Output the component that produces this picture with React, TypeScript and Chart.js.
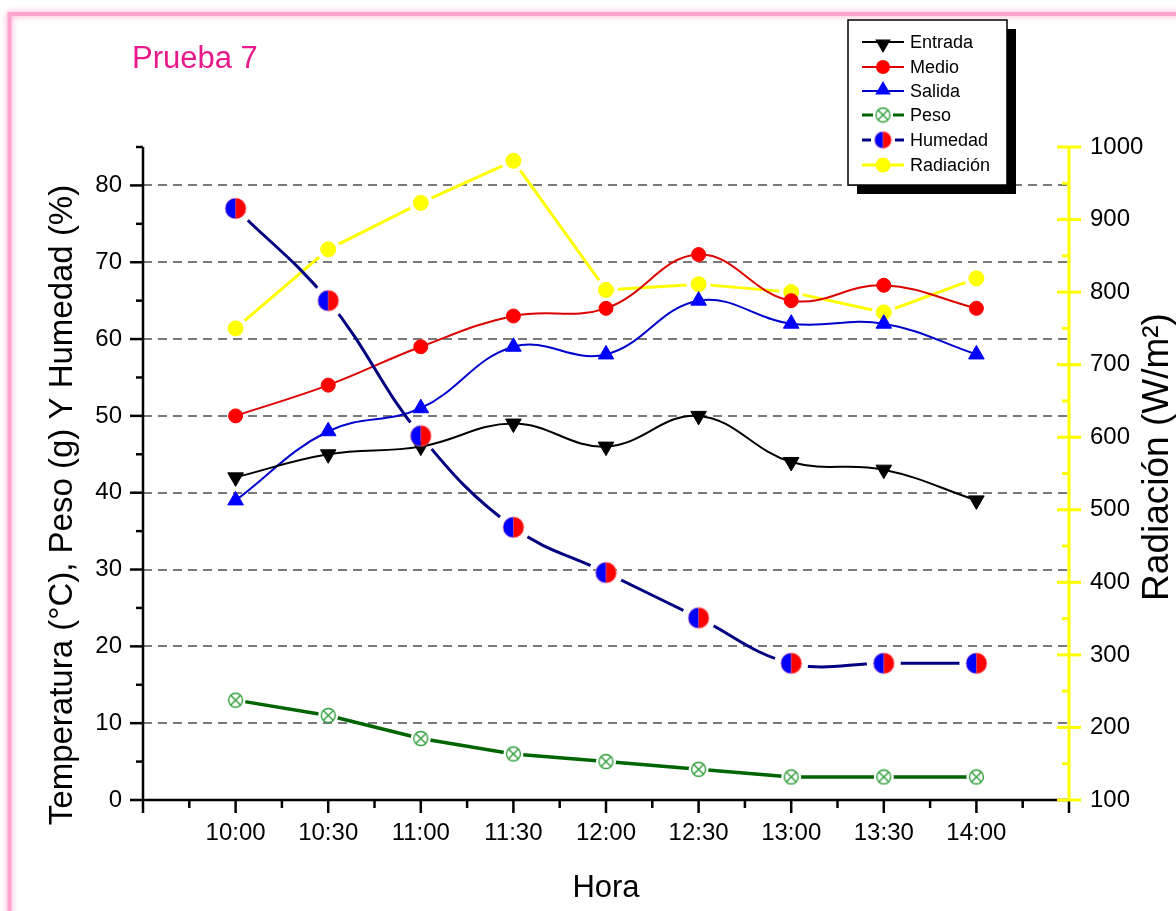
import React, { useEffect, useRef } from 'react';
import { Chart, registerables } from 'chart.js';
Chart.register(...registerables);

const horas = ['10:00', '10:30', '11:00', '11:30', '12:00', '12:30', '13:00', '13:30', '14:00'];
const entrada = [42, 45, 46, 49, 46, 50, 44, 43, 39];
const medio = [50, 54, 59, 63, 64, 71, 65, 67, 64];
const salida = [39, 48, 51, 59, 58, 65, 62, 62, 58];
const peso = [13, 11, 8, 6, 5, 4, 3, 3, 3];
const humedad = [77, 65, 47.4, 35.5, 29.6, 23.7, 17.8, 17.8, 17.8];
const radiacion = [750, 859, 923, 981, 803, 811, 800, 772, 819];

const leftMin = 0, leftMax = 85, leftMajor = 10, leftMinor = 5;
const rightMin = 100, rightMax = 1000, rightMajor = 100, rightMinor = 50;
const legendNames = ['Entrada', 'Medio', 'Salida', 'Peso', 'Humedad', 'Radiación'];

const FONT = "'Liberation Sans', Arial, sans-serif";
const pts = (arr: number[]) => arr.map((v, i) => ({ x: i, y: v }));

function makeHumImg(r: number) {
  const c = document.createElement('canvas');
  const s = Math.ceil(r * 2 + 2);
  c.width = s; c.height = s;
  const g = c.getContext('2d')!;
  const cx = s / 2;
  g.fillStyle = '#0000FF';
  g.beginPath(); g.moveTo(cx, cx); g.arc(cx, cx, r, Math.PI / 2, Math.PI * 1.5); g.closePath(); g.fill();
  g.fillStyle = '#FF0000';
  g.beginPath(); g.moveTo(cx, cx); g.arc(cx, cx, r, -Math.PI / 2, Math.PI / 2); g.closePath(); g.fill();
  g.strokeStyle = 'rgba(255,160,170,0.7)'; g.lineWidth = 1;
  g.beginPath(); g.arc(cx, cx, r, 0, Math.PI * 2); g.stroke();
  return c;
}

function makePesoImg(r: number) {
  const c = document.createElement('canvas');
  const s = Math.ceil(r * 2 + 3);
  c.width = s; c.height = s;
  const g = c.getContext('2d')!;
  const cx = s / 2;
  g.fillStyle = '#fff';
  g.beginPath(); g.arc(cx, cx, r, 0, Math.PI * 2); g.fill();
  g.strokeStyle = '#2E9E3A'; g.lineWidth = 1.4;
  g.stroke();
  const d = r * 0.72;
  g.beginPath();
  g.moveTo(cx - d, cx - d); g.lineTo(cx + d, cx + d);
  g.moveTo(cx + d, cx - d); g.lineTo(cx - d, cx + d);
  g.stroke();
  return c;
}

export default function App() {
  const ref = useRef<HTMLCanvasElement>(null);
  useEffect(() => {
    const canvas = ref.current!;
    const humImg = makeHumImg(10.5);
    const humImgSmall = makeHumImg(8.5);
    const pesoImg = makePesoImg(7);

    const decor = {
      id: 'decor',
      beforeDraw(chart: any) {
        const ctx = chart.ctx;
        const ca = chart.chartArea;
        ctx.save();
        ctx.fillStyle = '#fff';
        ctx.fillRect(0, 0, chart.width, chart.height);
        // pink frame
        ctx.strokeStyle = '#FFA3CF';
        ctx.lineWidth = 4;
        ctx.shadowColor = 'rgba(255,150,200,0.9)';
        ctx.shadowBlur = 6;
        ctx.beginPath();
        ctx.moveTo(9.5, chart.height + 10);
        ctx.lineTo(9.5, 14);
        ctx.lineTo(chart.width + 10, 14);
        ctx.stroke();
        ctx.shadowBlur = 0;
        ctx.shadowColor = 'transparent';
        // gridlines
        const yl = chart.scales.y;
        ctx.strokeStyle = '#7A7A7A';
        ctx.lineWidth = 2;
        ctx.setLineDash([9, 6]);
        for (let v = leftMin + leftMajor; v < leftMax; v += leftMajor) {
          const py = Math.round(yl.getPixelForValue(v));
          ctx.beginPath();
          ctx.moveTo(ca.left, py);
          ctx.lineTo(ca.right, py);
          ctx.stroke();
        }
        ctx.restore();
      },
      beforeDatasetDraw(chart: any, args: any) {
        const ds = chart.data.datasets[args.index];
        if (!ds.gap) return;
        const ctx = chart.ctx;
        ctx.save();
        ctx.beginPath();
        ctx.rect(0, 0, chart.width, chart.height);
        for (const el of args.meta.data) {
          ctx.moveTo(el.x + ds.gap, el.y);
          ctx.arc(el.x, el.y, ds.gap, 0, Math.PI * 2, true);
        }
        ctx.clip('evenodd');
      },
      afterDatasetDraw(chart: any, args: any) {
        const ds = chart.data.datasets[args.index];
        if (!ds.gap) return;
        chart.ctx.restore();
      },
      afterDraw(chart: any) {
        const ctx = chart.ctx;
        const ca = chart.chartArea;
        const xs = chart.scales.x, yl = chart.scales.y, yr = chart.scales.y1;
        const line = (x1: number, y1: number, x2: number, y2: number) => {
          ctx.beginPath(); ctx.moveTo(x1, y1); ctx.lineTo(x2, y2); ctx.stroke();
        };
        ctx.save();
        ctx.lineCap = 'butt';
        ctx.strokeStyle = '#000';
        ctx.lineWidth = 2.5;
        line(ca.left, ca.bottom, ca.right, ca.bottom);
        for (let v = -1; v <= 9; v += 0.5) {
          const px = xs.getPixelForValue(v);
          line(px, ca.bottom, px, ca.bottom + (Number.isInteger(v) ? 13 : 8));
        }
        line(ca.left, ca.top, ca.left, ca.bottom);
        for (let v = leftMin; v <= leftMax; v += leftMinor) {
          const py = yl.getPixelForValue(v);
          line(ca.left - (v % leftMajor === 0 ? 13 : 7), py, ca.left, py);
        }
        ctx.strokeStyle = '#FFFF00';
        ctx.lineWidth = 3;
        line(ca.right, ca.top, ca.right, ca.bottom);
        for (let v = rightMin; v <= rightMax; v += rightMinor) {
          const py = yr.getPixelForValue(v);
          if (v % rightMajor === 0) line(ca.right - 12, py, ca.right + 12, py);
          else line(ca.right - 7, py, ca.right, py);
        }

        // titles
        ctx.fillStyle = '#E8198B';
        ctx.font = `31px ${FONT}`;
        ctx.textAlign = 'left';
        ctx.textBaseline = 'alphabetic';
        ctx.fillText('Prueba 7', 132, 68);

        ctx.fillStyle = '#000';
        ctx.font = `31px ${FONT}`;
        ctx.textAlign = 'center';
        ctx.fillText('Hora', (ca.left + ca.right) / 2, 897);

        ctx.font = `33px ${FONT}`;
        ctx.save();
        ctx.translate(72, 505);
        ctx.rotate(-Math.PI / 2);
        ctx.fillText('Temperatura (°C), Peso (g) Y Humedad (%)', 0, 0);
        ctx.restore();
        ctx.font = `37px ${FONT}`;
        ctx.save();
        ctx.translate(1168, 457);
        ctx.rotate(-Math.PI / 2);
        ctx.fillText('Radiación (W/m²)', 0, 0);
        ctx.restore();

        // legend
        const L = { x: 848, y: 20, w: 159, h: 165 };
        ctx.fillStyle = '#000';
        ctx.fillRect(L.x + 9, L.y + 9, L.w, L.h);
        ctx.fillStyle = '#fff';
        ctx.fillRect(L.x, L.y, L.w, L.h);
        ctx.strokeStyle = '#000';
        ctx.lineWidth = 1.5;
        ctx.strokeRect(L.x, L.y, L.w, L.h);
        const rows = [42, 67, 91, 115, 140, 165];
        const lx1 = 862, lx2 = 904, mx = 883;
        const tri = (cx: number, cy: number, r: number, down: boolean, color: string) => {
          ctx.fillStyle = color;
          ctx.beginPath();
          const s = down ? -1 : 1;
          ctx.moveTo(cx, cy - s * r);
          ctx.lineTo(cx + r * 0.866, cy + s * r * 0.5);
          ctx.lineTo(cx - r * 0.866, cy + s * r * 0.5);
          ctx.closePath();
          ctx.fill();
        };
        const circ = (cx: number, cy: number, r: number, color: string) => {
          ctx.fillStyle = color;
          ctx.beginPath(); ctx.arc(cx, cy, r, 0, Math.PI * 2); ctx.fill();
        };
        // Entrada
        ctx.strokeStyle = '#000'; ctx.lineWidth = 2;
        line(lx1, rows[0], lx2, rows[0]);
        tri(mx, rows[0] + 2, 9, true, '#000');
        // Medio
        ctx.strokeStyle = '#DD0000'; ctx.lineWidth = 2;
        line(lx1, rows[1], lx2, rows[1]);
        circ(mx, rows[1], 7, '#FF0000');
        // Salida
        ctx.strokeStyle = '#0000CC'; ctx.lineWidth = 2;
        line(lx1, rows[2], lx2, rows[2]);
        tri(mx, rows[2] - 1, 9, false, '#0000FF');
        // Peso
        ctx.strokeStyle = '#006400'; ctx.lineWidth = 3;
        line(lx1, rows[3], mx - 10, rows[3]);
        line(mx + 10, rows[3], lx2, rows[3]);
        ctx.drawImage(pesoImg, mx - pesoImg.width / 2, rows[3] - pesoImg.height / 2);
        // Humedad
        ctx.strokeStyle = '#000080'; ctx.lineWidth = 3;
        line(lx1, rows[4], lx1 + 9, rows[4]);
        line(lx2 - 9, rows[4], lx2, rows[4]);
        ctx.drawImage(humImgSmall, mx - humImgSmall.width / 2, rows[4] - humImgSmall.height / 2);
        // Radiación
        ctx.strokeStyle = '#FFFF00'; ctx.lineWidth = 3;
        line(lx1, rows[5], lx2, rows[5]);
        circ(mx, rows[5], 7.5, '#FFFF00');

        ctx.fillStyle = '#000';
        ctx.font = `18px ${FONT}`;
        ctx.textAlign = 'left';
        ctx.textBaseline = 'middle';
        legendNames.forEach((n, i) => ctx.fillText(n, 910, rows[i] + 1));
        ctx.restore();
      },
    };

    const chart = new Chart(canvas, {
      type: 'line',
      data: {
        datasets: [
          { label: 'Humedad pts', data: pts(humedad), showLine: false, pointStyle: humImg as any, pointRadius: 10, yAxisID: 'y' },
          { label: 'Humedad', data: pts(humedad), borderColor: '#000080', borderWidth: 3, tension: 0.4, pointRadius: 0, yAxisID: 'y', gap: 17 } as any,
          { label: 'Entrada', data: pts(entrada), borderColor: '#000000', borderWidth: 2, tension: 0.4, pointStyle: 'triangle', pointRotation: 180, pointRadius: 9, pointBackgroundColor: '#000', pointBorderColor: '#000', pointBorderWidth: 1, yAxisID: 'y' },
          { label: 'Medio', data: pts(medio), borderColor: '#DD0000', borderWidth: 2, tension: 0.4, pointStyle: 'circle', pointRadius: 7, pointBackgroundColor: '#FF0000', pointBorderColor: '#FF0000', pointBorderWidth: 1, yAxisID: 'y' },
          { label: 'Salida', data: pts(salida), borderColor: '#0000CC', borderWidth: 2, tension: 0.4, pointStyle: 'triangle', pointRadius: 9, pointBackgroundColor: '#0000FF', pointBorderColor: '#0000FF', pointBorderWidth: 1, yAxisID: 'y' },
          { label: 'Peso pts', data: pts(peso), showLine: false, pointStyle: pesoImg as any, pointRadius: 7, yAxisID: 'y' },
          { label: 'Peso', data: pts(peso), borderColor: '#006400', borderWidth: 3.5, tension: 0, pointRadius: 0, yAxisID: 'y', gap: 10 } as any,
          { label: 'Radiación pts', data: pts(radiacion), showLine: false, pointStyle: 'circle', pointRadius: 7.5, pointBackgroundColor: '#FFFF00', pointBorderColor: '#FFFF00', pointBorderWidth: 1, yAxisID: 'y1' },
          { label: 'Radiación', data: pts(radiacion), borderColor: '#FFFF00', borderWidth: 3, tension: 0, pointRadius: 0, yAxisID: 'y1', gap: 12 } as any,
        ],
      },
      options: {
        animation: false,
        responsive: false,
        maintainAspectRatio: false,
        layout: { padding: { top: 147, left: 0, right: 0, bottom: 0 } },
        plugins: { legend: { display: false }, tooltip: { enabled: false }, title: { display: false } },
        scales: {
          x: {
            type: 'linear', position: 'bottom', min: -1, max: 9,
            grid: { display: false, drawTicks: false }, border: { display: false },
            ticks: {
              stepSize: 1, autoSkip: false, maxRotation: 0, minRotation: 0, padding: 19,
              color: '#000', font: { family: FONT, size: 24 },
              callback: (v: any) => (Number.isInteger(v) && v >= 0 && v < horas.length ? horas[v] : ''),
            },
            afterFit: (s: any) => { s.height = 111; },
          },
          y: {
            type: 'linear', position: 'left', min: leftMin, max: leftMax,
            grid: { display: false, drawTicks: false }, border: { display: false },
            ticks: {
              stepSize: leftMinor, autoSkip: false, padding: 21, color: '#000', font: { family: FONT, size: 24 },
              callback: (v: any) => (v % leftMajor === 0 ? String(v) : ''),
            },
            afterFit: (s: any) => { s.width = 143; },
          },
          y1: {
            type: 'linear', position: 'right', min: rightMin, max: rightMax,
            grid: { display: false, drawTicks: false }, border: { display: false },
            ticks: {
              stepSize: rightMinor, autoSkip: false, padding: 21, color: '#000', font: { family: FONT, size: 24 },
              callback: (v: any) => (v % rightMajor === 0 ? String(v) : ''),
            },
            afterFit: (s: any) => { s.width = 107; },
          },
        },
      } as any,
      plugins: [decor],
    });
    return () => chart.destroy();
  }, []);
  return (
    <div style={{ position: 'absolute', left: 0, top: 0, width: 1176, height: 911 }}>
      <canvas ref={ref} width={1176} height={911} style={{ width: 1176, height: 911, display: 'block' }} />
    </div>
  );
}
